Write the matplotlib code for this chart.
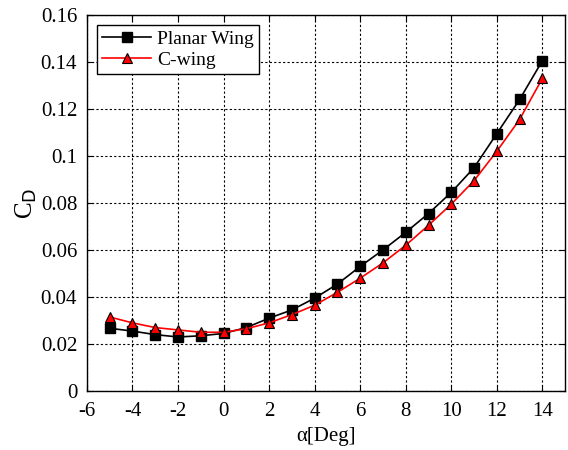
import matplotlib.pyplot as plt

plt.rcParams['font.family'] = ['Liberation Serif', 'DejaVu Serif']
plt.rcParams['axes.unicode_minus'] = False

alpha = [-5, -4, -3, -2, -1, 0, 1, 2, 3, 4, 5, 6, 7, 8, 9, 10, 11, 12, 13, 14]
cd_planar = [0.0267, 0.0255, 0.0240, 0.0230, 0.0235, 0.0245, 0.0270, 0.0310, 0.0345, 0.0395,
             0.0455, 0.0530, 0.0600, 0.0675, 0.0755, 0.0845, 0.0950, 0.1095, 0.1240, 0.1405]
cd_cwing = [0.0315, 0.0290, 0.0270, 0.0260, 0.0250, 0.0250, 0.0265, 0.0290, 0.0325, 0.0365,
            0.0420, 0.0480, 0.0545, 0.0620, 0.0705, 0.0795, 0.0895, 0.1020, 0.1155, 0.1330]

fig = plt.figure(figsize=(5.68, 4.5), dpi=100)
ax = fig.add_axes([0.153, 0.131, 0.842, 0.836])

ax.plot(alpha, cd_planar, color='black', lw=1.2, marker='s', ms=7.5,
        mfc='black', mec='black', label='Planar Wing', zorder=3)
ax.plot(alpha, cd_cwing, color='red', lw=1.2, marker='^', ms=7.5,
        mfc='red', mec='black', mew=0.8, label='C-wing', zorder=4)

ax.set_xlim(-6, 15)
ax.set_ylim(0, 0.16)
ax.set_xticks(range(-6, 15, 2))
ax.set_yticks([0, 0.02, 0.04, 0.06, 0.08, 0.1, 0.12, 0.14, 0.16])
ax.set_yticklabels(['0', '0.02', '0.04', '0.06', '0.08', '0.1', '0.12', '0.14', '0.16'])
ax.grid(True, color='black', linestyle=(0, (2, 2)), lw=0.8)
ax.tick_params(direction='in', top=True, right=True, labelsize=15, length=4)
ax.tick_params(axis='y', pad=7)
ax.tick_params(axis='x', pad=8)
for s in ax.spines.values():
    s.set_linewidth(1.0)

ax.set_xlabel('α[Deg]', fontsize=15, labelpad=4)
ax.set_ylabel(r'C$_\mathrm{D}$', fontsize=18, labelpad=1)

leg = ax.legend(loc='upper left', fontsize=14, fancybox=False, edgecolor='black',
                framealpha=1, borderaxespad=0.5, handlelength=2.5, borderpad=0.3,
                labelspacing=0.15, handletextpad=0.3)
leg.get_frame().set_linewidth(1.0)

plt.savefig('out.png', dpi=100)
